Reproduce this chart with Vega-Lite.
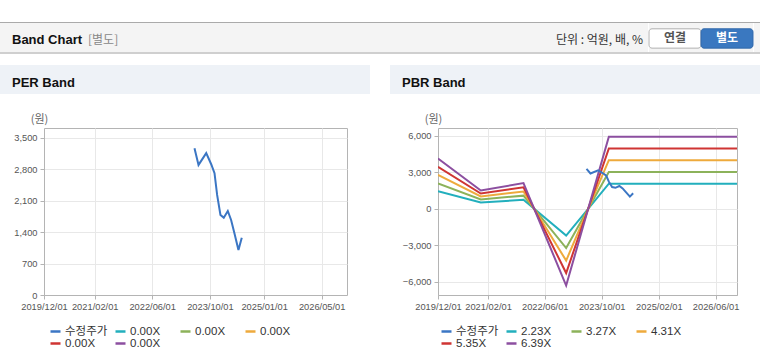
{
  "$schema": "https://vega.github.io/schema/vega-lite/v6.json",
  "padding": {"left": 0, "top": 22, "right": 0, "bottom": 0},
  "background": "#ffffff",
  "columns": 1,
  "align": "none",
  "spacing": 11,
  "resolve": {"scale": {"color": "independent", "x": "independent", "y": "independent"}, "legend": {"color": "independent"}},
  "datasets": {
    "price": [
      {"d": "2023-05-24", "s": "수정주가", "v": 3270},
      {"d": "2023-06-27", "s": "수정주가", "v": 2898},
      {"d": "2023-08-31", "s": "수정주가", "v": 3159},
      {"d": "2023-10-12", "s": "수정주가", "v": 2913},
      {"d": "2023-11-09", "s": "수정주가", "v": 2713},
      {"d": "2023-12-01", "s": "수정주가", "v": 2229},
      {"d": "2023-12-29", "s": "수정주가", "v": 1783},
      {"d": "2024-01-26", "s": "수정주가", "v": 1723},
      {"d": "2024-02-29", "s": "수정주가", "v": 1872},
      {"d": "2024-03-28", "s": "수정주가", "v": 1672},
      {"d": "2024-04-25", "s": "수정주가", "v": 1375},
      {"d": "2024-05-29", "s": "수정주가", "v": 1003},
      {"d": "2024-06-26", "s": "수정주가", "v": 1277}
    ],
    "pbr": [
      {"d": "2019-12-01", "s": "2.23X", "v": 1438},
      {"d": "2020-12-01", "s": "2.23X", "v": 524},
      {"d": "2021-12-01", "s": "2.23X", "v": 736},
      {"d": "2022-12-01", "s": "2.23X", "v": -2197},
      {"d": "2023-12-01", "s": "2.23X", "v": 2063},
      {"d": "2026-12-01", "s": "2.23X", "v": 2063},
      {"d": "2019-12-01", "s": "3.27X", "v": 2080},
      {"d": "2020-12-01", "s": "3.27X", "v": 769},
      {"d": "2021-12-01", "s": "3.27X", "v": 1079},
      {"d": "2022-12-01", "s": "3.27X", "v": -3221},
      {"d": "2023-12-01", "s": "3.27X", "v": 3025},
      {"d": "2026-12-01", "s": "3.27X", "v": 3025},
      {"d": "2019-12-01", "s": "4.31X", "v": 2780},
      {"d": "2020-12-01", "s": "4.31X", "v": 1013},
      {"d": "2021-12-01", "s": "4.31X", "v": 1422},
      {"d": "2022-12-01", "s": "4.31X", "v": -4245},
      {"d": "2023-12-01", "s": "4.31X", "v": 3987},
      {"d": "2026-12-01", "s": "4.31X", "v": 3987},
      {"d": "2019-12-01", "s": "5.35X", "v": 3451},
      {"d": "2020-12-01", "s": "5.35X", "v": 1257},
      {"d": "2021-12-01", "s": "5.35X", "v": 1766},
      {"d": "2022-12-01", "s": "5.35X", "v": -5270},
      {"d": "2023-12-01", "s": "5.35X", "v": 4949},
      {"d": "2026-12-01", "s": "5.35X", "v": 4949},
      {"d": "2019-12-01", "s": "6.39X", "v": 4122},
      {"d": "2020-12-01", "s": "6.39X", "v": 1502},
      {"d": "2021-12-01", "s": "6.39X", "v": 2109},
      {"d": "2022-12-01", "s": "6.39X", "v": -6294},
      {"d": "2023-12-01", "s": "6.39X", "v": 5911},
      {"d": "2026-12-01", "s": "6.39X", "v": 5911}
    ],
    "buttons": [
      {"b": "연결"},
      {"b": "별도"}
    ],
    "none": []
  },
  "config": {
    "font": "Noto Sans CJK KR",
    "view": {"stroke": "#b4b4b4"},
    "axis": {
      "labelFont": "Liberation Sans",
      "labelFontSize": 9.3,
      "labelColor": "#555555",
      "tickColor": "#b4b4b4",
      "tickSize": 4,
      "labelPadding": 3,
      "gridColor": "#e8e8e8",
      "domainColor": "#b4b4b4",
      "titleFont": "Noto Sans CJK KR",
      "titleFontWeight": "normal",
      "titleFontSize": 11,
      "titleColor": "#666666"
    },
    "legend": {
      "labelFont": "Liberation Sans, Noto Sans CJK KR",
      "labelFontSize": 11.5,
      "labelColor": "#333333",
      "symbolType": "stroke",
      "symbolSize": 100,
      "symbolStrokeWidth": 2.5,
      "labelOffset": 3
    },
    "title": {"font": "Noto Sans CJK KR"}
  },
  "concat": [
    {
      "spacing": 0,
      "vconcat": [
        {
          "width": 760, "height": 1,
          "view": {"fill": "#aaaaaa", "stroke": null},
          "data": {"name": "none"},
          "mark": "rect"
        },
        {
          "spacing": 0,
          "resolve": {"scale": {"color": "independent", "fill": "independent", "stroke": "independent", "x": "independent", "y": "independent"}, "legend": {"color": "independent"}},
          "hconcat": [
            {
              "width": 84, "height": 29,
              "view": {"fill": "#f4f4f4", "stroke": null},
              "title": {"text": "Band Chart", "anchor": "start", "frame": "group", "dx": 12, "offset": -30, "baseline": "middle", "fontSize": 13, "fontWeight": "bold", "color": "#111111", "font": "Liberation Sans"},
              "data": {"name": "none"},
              "mark": "rect"
            },
            {
              "width": 464, "height": 29,
              "view": {"fill": "#f4f4f4", "stroke": null},
              "title": {"text": "[별도]", "anchor": "start", "frame": "group", "dx": 4, "offset": -29, "baseline": "middle", "fontSize": 12, "fontWeight": "normal", "color": "#888888"},
              "data": {"name": "none"},
              "mark": "rect"
            },
            {
              "width": 100, "height": 29,
              "view": {"fill": "#f4f4f4", "stroke": null},
              "title": {"text": "단위 : 억원, 배, %", "anchor": "end", "frame": "group", "dx": -5, "offset": -29, "baseline": "middle", "fontSize": 12, "fontWeight": "normal", "color": "#333333"},
              "data": {"name": "none"},
              "mark": "rect"
            },
            {
              "width": 104, "height": 29,
              "view": {"fill": "#f4f4f4", "stroke": null},
              "data": {"name": "buttons"},
              "encoding": {
                "x": {"field": "b", "type": "nominal", "sort": ["연결", "별도"], "scale": {"paddingInner": 0, "paddingOuter": 0}, "axis": null},
                "y": {"datum": "btn", "type": "nominal", "scale": {"paddingInner": 0, "paddingOuter": 0.25, "align": 0.6}, "axis": null}
              },
              "layer": [
                {
                  "mark": {"type": "rect", "cornerRadius": 3, "strokeWidth": 1},
                  "encoding": {
                    "fill": {"field": "b", "type": "nominal", "scale": {"domain": ["연결", "별도"], "range": ["#ffffff", "#3a78c0"]}, "legend": null},
                    "stroke": {"field": "b", "type": "nominal", "scale": {"domain": ["연결", "별도"], "range": ["#b0b0b0", "#3269aa"]}, "legend": null}
                  }
                },
                {
                  "mark": {"type": "text", "fontSize": 12, "fontWeight": "bold", "font": "Noto Sans CJK KR"},
                  "encoding": {
                    "text": {"field": "b"},
                    "color": {"field": "b", "type": "nominal", "scale": {"domain": ["연결", "별도"], "range": ["#555555", "#ffffff"]}, "legend": null}
                  }
                }
              ]
            },
            {
              "width": 8, "height": 29,
              "view": {"fill": "#f4f4f4", "stroke": null},
              "data": {"name": "none"},
              "mark": "rect"
            }
          ]
        },
        {
          "width": 760, "height": 2,
          "view": {"fill": "#cfcfcf", "stroke": null},
          "data": {"name": "none"},
          "mark": "rect"
        }
      ],
      "resolve": {"scale": {"color": "independent", "fill": "independent", "stroke": "independent", "x": "independent", "y": "independent"}, "legend": {"color": "independent"}}
    },
    {
      "columns": 2,
      "align": "none",
      "spacing": 20,
      "resolve": {"scale": {"color": "independent", "x": "independent", "y": "independent"}, "legend": {"color": "independent"}},
      "concat": [
        {
          "columns": 1,
          "align": "none",
          "spacing": 18,
          "resolve": {"scale": {"color": "independent", "x": "independent", "y": "independent"}, "legend": {"color": "independent"}},
          "concat": [
            {
              "width": 370, "height": 29,
              "view": {"fill": "#eef2f7", "stroke": null},
              "title": {"text": "PER Band", "anchor": "start", "frame": "group", "dx": 12, "offset": -31, "baseline": "middle", "fontSize": 13, "fontWeight": "bold", "color": "#111111", "font": "Liberation Sans"},
              "data": {"name": "none"},
              "mark": "rect"
            },
            {
              "spacing": 0,
              "resolve": {"scale": {"color": "independent", "x": "independent", "y": "independent"}, "legend": {"color": "independent"}},
              "hconcat": [
                {
                  "width": 1, "height": 1,
                  "view": {"stroke": null},
                  "data": {"name": "none"},
                  "mark": "rect"
                },
                {
                  "width": 303, "height": 167,
                  "data": {"name": "price"},
                  "mark": {"type": "line", "strokeWidth": 2, "clip": true},
                  "encoding": {
                    "x": {
                      "field": "d", "type": "temporal",
                      "scale": {"type": "utc", "domain": [{"year": 2019, "month": 12, "date": 1, "utc": true}, {"year": 2026, "month": 12, "date": 1, "utc": true}], "nice": false},
                      "axis": {
                        "title": null, "format": "%Y/%m/%d", "labelOverlap": false, "labelFlush": false,
                        "values": [
                          {"year": 2019, "month": 12, "date": 1, "utc": true},
                          {"year": 2021, "month": 2, "date": 1, "utc": true},
                          {"year": 2022, "month": 6, "date": 1, "utc": true},
                          {"year": 2023, "month": 10, "date": 1, "utc": true},
                          {"year": 2025, "month": 1, "date": 1, "utc": true},
                          {"year": 2026, "month": 5, "date": 1, "utc": true}
                        ]
                      }
                    },
                    "y": {
                      "field": "v", "type": "quantitative",
                      "scale": {"domain": [0, 3720], "nice": false, "zero": false},
                      "axis": {
                        "title": "(원)", "titleAngle": 0, "titleAlign": "center", "titleBaseline": "middle", "titleX": -5, "titleY": -9,
                        "values": [0, 700, 1400, 2100, 2800, 3500], "format": ",d", "minExtent": 42, "labelFlush": false
                      }
                    },
                    "color": {
                      "field": "s", "type": "nominal",
                      "scale": {"domain": ["수정주가", "b1", "b2", "b3", "b4", "b5"], "range": ["#3b76c4", "#22afbd", "#8cb25a", "#eeaa3c", "#cf3533", "#8c4fa0"]},
                      "legend": {
                        "title": null, "orient": "none", "legendX": 5, "legendY": 197, "direction": "horizontal", "columns": 4, "gridAlign": "all", "columnPadding": 2, "rowPadding": 0,
                        "labelExpr": "datum.label == '수정주가' ? datum.label : '0.00X'"
                      }
                    }
                  }
                }
              ]
            }
          ]
        },
        {
          "columns": 1,
          "align": "none",
          "spacing": 18,
          "resolve": {"scale": {"color": "independent", "x": "independent", "y": "independent"}, "legend": {"color": "independent"}},
          "concat": [
            {
              "width": 370, "height": 29,
              "view": {"fill": "#eef2f7", "stroke": null},
              "title": {"text": "PBR Band", "anchor": "start", "frame": "group", "dx": 12, "offset": -31, "baseline": "middle", "fontSize": 13, "fontWeight": "bold", "color": "#111111", "font": "Liberation Sans"},
              "data": {"name": "none"},
              "mark": "rect"
            },
            {
              "spacing": 0,
              "resolve": {"scale": {"color": "independent", "x": "independent", "y": "independent"}, "legend": {"color": "independent"}},
              "hconcat": [
                {
                  "width": 1, "height": 1,
                  "view": {"stroke": null},
                  "data": {"name": "none"},
                  "mark": "rect"
                },
                {
                  "width": 299, "height": 167,
                  "encoding": {
                    "x": {
                      "field": "d", "type": "temporal",
                      "scale": {"type": "utc", "domain": [{"year": 2019, "month": 12, "date": 1, "utc": true}, {"year": 2026, "month": 12, "date": 1, "utc": true}], "nice": false},
                      "axis": {
                        "title": null, "format": "%Y/%m/%d", "labelOverlap": false, "labelFlush": false,
                        "values": [
                          {"year": 2019, "month": 12, "date": 1, "utc": true},
                          {"year": 2021, "month": 2, "date": 1, "utc": true},
                          {"year": 2022, "month": 6, "date": 1, "utc": true},
                          {"year": 2023, "month": 10, "date": 1, "utc": true},
                          {"year": 2025, "month": 2, "date": 1, "utc": true},
                          {"year": 2026, "month": 6, "date": 1, "utc": true}
                        ]
                      }
                    },
                    "y": {
                      "field": "v", "type": "quantitative",
                      "scale": {"domain": [-7070, 6630], "nice": false, "zero": false},
                      "axis": {
                        "title": "(원)", "titleAngle": 0, "titleAlign": "center", "titleBaseline": "middle", "titleX": -5, "titleY": -9,
                        "values": [-6000, -3000, 0, 3000, 6000], "format": ",d", "minExtent": 46, "labelFlush": false
                      }
                    },
                    "color": {
                      "field": "s", "type": "nominal",
                      "scale": {"domain": ["수정주가", "2.23X", "3.27X", "4.31X", "5.35X", "6.39X"], "range": ["#3b76c4", "#22afbd", "#8cb25a", "#eeaa3c", "#cf3533", "#8c4fa0"]},
                      "legend": {
                        "title": null, "orient": "none", "legendX": 2, "legendY": 197, "direction": "horizontal", "columns": 4, "gridAlign": "all", "columnPadding": 2, "rowPadding": 0
                      }
                    }
                  },
                  "layer": [
                    {
                      "data": {"name": "pbr"},
                      "mark": {"type": "line", "strokeWidth": 2, "clip": true}
                    },
                    {
                      "data": {"name": "price"},
                      "mark": {"type": "line", "strokeWidth": 2, "clip": true}
                    }
                  ]
                }
              ]
            }
          ]
        }
      ]
    }
  ]
}
